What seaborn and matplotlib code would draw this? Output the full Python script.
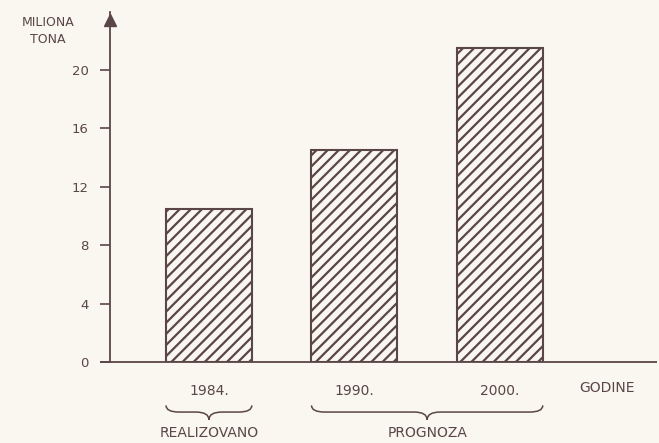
import matplotlib
matplotlib.use("Agg")
import matplotlib.pyplot as plt
import seaborn as sns
import pandas as pd
from matplotlib.path import Path
from matplotlib.patches import PathPatch
import matplotlib.transforms as mtransforms

years = ["1984.", "1990.", "2000."]
values = [10.5, 14.5, 21.5]
yticks = [0, 4, 8, 12, 16, 20]
group_labels = ["REALIZOVANO", "PROGNOZA"]
y_title = "MILIONA\nTONA"
x_title = "GODINE"

ink = "#5a4646"
paper = "#f9f7ef"

sns.set_theme(style="white")
plt.rcParams["font.family"] = ["DejaVu Sans"]
plt.rcParams["hatch.linewidth"] = 1.6
plt.rcParams["hatch.color"] = ink

fig = plt.figure(figsize=(6.59, 4.43), dpi=100, facecolor=paper)
ax = fig.add_axes([110 / 659, (443 - 362) / 443, 547 / 659, 350 / 443])
ax.set_facecolor(paper)

df = pd.DataFrame({"year": years, "value": values})
sns.barplot(data=df, x="year", y="value", order=years, width=0.59,
            color=paper, edgecolor=ink, linewidth=1.5, hatch="///",
            saturation=1, ax=ax)
for p in ax.patches:
    p.set_facecolor(paper)
    p.set_edgecolor(ink)
    p.set_hatch("///")

ax.set_xlim(-0.68, 3.08)
ax.set_ylim(0, 23.97)
ax.set_yticks(yticks)
ax.set_yticklabels([str(t) for t in yticks])
ax.set_xlabel("")
ax.set_ylabel("")

for s in ["top", "right", "bottom"]:
    ax.spines[s].set_visible(False)
ax.spines["left"].set_color(ink)
ax.spines["left"].set_linewidth(1.3)

# x axis line extending slightly left of y axis
ax.plot([-0.018, 1.0], [0, 0], transform=ax.transAxes,
        color=ink, lw=1.3, clip_on=False, solid_capstyle="butt")
# arrow head on y axis
ax.plot([0], [1 - 8 / 350], marker="^", markersize=9, color=ink,
        transform=ax.transAxes, clip_on=False)

ax.tick_params(axis="y", direction="out", length=7.5, width=1.2, color=ink,
               pad=8, labelsize=9.5, labelcolor=ink, left=True)
ax.tick_params(axis="x", length=0, pad=16, labelsize=10, labelcolor=ink)

trans = mtransforms.blended_transform_factory(ax.transData, ax.transAxes)
ax.text(0.909, -0.0745, x_title, transform=ax.transAxes, ha="center",
        va="center", fontsize=10, color=ink)

fig.text(48 / 659, (443 - 31) / 443, y_title, ha="center", va="center",
         fontsize=9, color=ink, linespacing=1.45)


def brace(x0, x1, y_end=-0.124, y_mid=-0.143, y_tip=-0.165, r=0.09):
    xm = (x0 + x1) / 2
    verts = [
        (x0, y_end), (x0, y_mid), (x0 + r, y_mid),
        (xm - r, y_mid),
        (xm, y_mid), (xm, y_tip),
        (xm, y_mid), (xm + r, y_mid),
        (x1 - r, y_mid),
        (x1, y_mid), (x1, y_end),
    ]
    codes = [Path.MOVETO, Path.CURVE3, Path.CURVE3, Path.LINETO,
             Path.CURVE3, Path.CURVE3, Path.CURVE3, Path.CURVE3,
             Path.LINETO, Path.CURVE3, Path.CURVE3]
    patch = PathPatch(Path(verts, codes), transform=trans, fill=False,
                      edgecolor=ink, lw=1.1, clip_on=False)
    ax.add_patch(patch)
    return xm


bars = sorted(ax.patches, key=lambda p: p.get_x())
groups = [(bars[0].get_x(), bars[0].get_x() + bars[0].get_width()),
          (bars[1].get_x(), bars[2].get_x() + bars[2].get_width())]
for (a, b), lab in zip(groups, group_labels):
    xm = brace(a, b)
    ax.text(xm, -0.203, lab, transform=trans, ha="center", va="center",
            fontsize=10, color=ink)

fig.savefig("out.png", dpi=100, facecolor=paper)
